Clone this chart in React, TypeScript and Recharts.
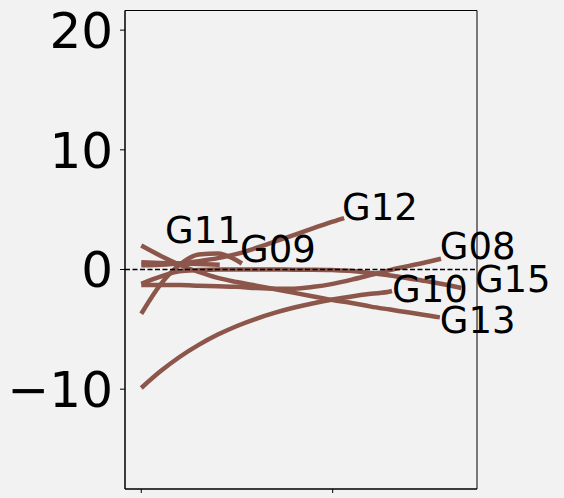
import React from 'react';
import { LineChart, Line, XAxis, YAxis, ReferenceLine, ReferenceArea, ReferenceDot } from 'recharts';

// sampled values per group, one value per x step (0, 1, 2, ...), the last one at the group's end x
const g08 = [-1.3, -1.3, -1.3, -1.35, -1.4, -1.45, -1.55, -1.6, -1.6, -1.45, -1.2, -0.85, -0.45, -0.05, 0.3, 0.65, 0.9];
const g09 = [-3.7, -1.26, 0.39, 1.26, 1.34, 0.75, 0.5];
const g10 = [-9.9, -8.51, -7.31, -6.3, -5.44, -4.72, -4.12, -3.61, -3.18, -2.82, -2.51, -2.25, -2.03, -1.84, -1.8];
const g11 = [0.6, 0.55, 0.5, 0.45, 0.4];
const g12 = [0.35, 0.4, 0.5, 0.7, 0.95, 1.3, 1.8, 2.35, 2.9, 3.45, 4.0, 4.3];
const g13 = [2.0, 1.15, 0.4, -0.2, -0.7, -1.05, -1.35, -1.65, -1.95, -2.25, -2.55, -2.8, -3.1, -3.35, -3.6, -3.85, -4.0];
const g15 = [-1.2, -0.6, -0.15, -0.05, 0.0, 0.0, 0.0, 0.0, -0.02, -0.02, -0.05, -0.12, -0.3, -0.5, -0.75, -1.0, -1.3, -1.55];

const endX = { G08: 15.66, G09: 5.26, G10: 13.1, G11: 4.1, G12: 10.6, G13: 15.6, G15: 16.72 };

const labelNames = ['G08', 'G09', 'G10', 'G11', 'G12', 'G13', 'G15'];
const labelX = [15.6, 5.16, 13.1, 1.24, 10.49, 15.6, 17.43];
const labelY = [0.85, 0.6, -2.72, 2.21, 4.14, -5.3, -1.88];

const xTicks = [0, 10];
const yTicks = [-10, 0, 10, 20];

const xDomain: [number, number] = [-0.85, 17.54];
const yDomain: [number, number] = [-18.34, 21.64];

const toPoints = (values: number[], end: number) =>
  values.map((y, i) => ({ x: i === values.length - 1 ? end : i, y }));

const series = [
  { name: 'G08', data: toPoints(g08, endX.G08) },
  { name: 'G09', data: toPoints(g09, endX.G09) },
  { name: 'G10', data: toPoints(g10, endX.G10) },
  { name: 'G11', data: toPoints(g11, endX.G11) },
  { name: 'G12', data: toPoints(g12, endX.G12) },
  { name: 'G13', data: toPoints(g13, endX.G13) },
  { name: 'G15', data: toPoints(g15, endX.G15) },
];

const FONT = '"DejaVu Sans", sans-serif';
const BROWN = '#8c564b';

export default function App() {
  return (
    <div style={{ position: 'fixed', left: 0, top: 0, width: 564, height: 498, background: '#f2f2f2' }}>
      <LineChart width={564} height={498} margin={{ top: 10.5, right: 87, bottom: 0, left: 0 }}>
        <XAxis
          dataKey="x"
          type="number"
          domain={xDomain}
          ticks={xTicks}
          allowDataOverflow
          tickFormatter={() => ''}
          tickSize={4}
          height={9}
          stroke="#000"
        />
        <YAxis
          type="number"
          domain={yDomain}
          ticks={yTicks}
          allowDataOverflow
          width={125}
          tickSize={5}
          tickMargin={7}
          stroke="#000"
          tick={{ fill: '#000', fontSize: 50, fontFamily: FONT }}
          tickFormatter={(v: number) => (v < 0 ? `\u2212${Math.abs(v)}` : `${v}`)}
        />
        <ReferenceArea
          x1={xDomain[0]}
          x2={xDomain[1]}
          y1={yDomain[0]}
          y2={yDomain[1]}
          fill="none"
          stroke="#000"
          strokeWidth={1}
          ifOverflow="visible"
        />
        {series.map((s) => (
          <Line
            key={s.name}
            data={s.data}
            dataKey="y"
            type="monotone"
            stroke={BROWN}
            strokeWidth={4.5}
            dot={false}
            activeDot={false}
            isAnimationActive={false}
          />
        ))}
        <ReferenceLine y={0} stroke="#000" strokeWidth={1.5} strokeDasharray="5 2.5" />
        {labelNames.map((name, i) => (
          <ReferenceDot
            key={name}
            x={labelX[i]}
            y={labelY[i]}
            r={0}
            ifOverflow="visible"
            shape={(p: any) => (
              <text x={p.cx} y={p.cy} fill="#000" fontSize={37} fontFamily={FONT} textAnchor="start">
                {name}
              </text>
            )}
          />
        ))}
      </LineChart>
    </div>
  );
}
